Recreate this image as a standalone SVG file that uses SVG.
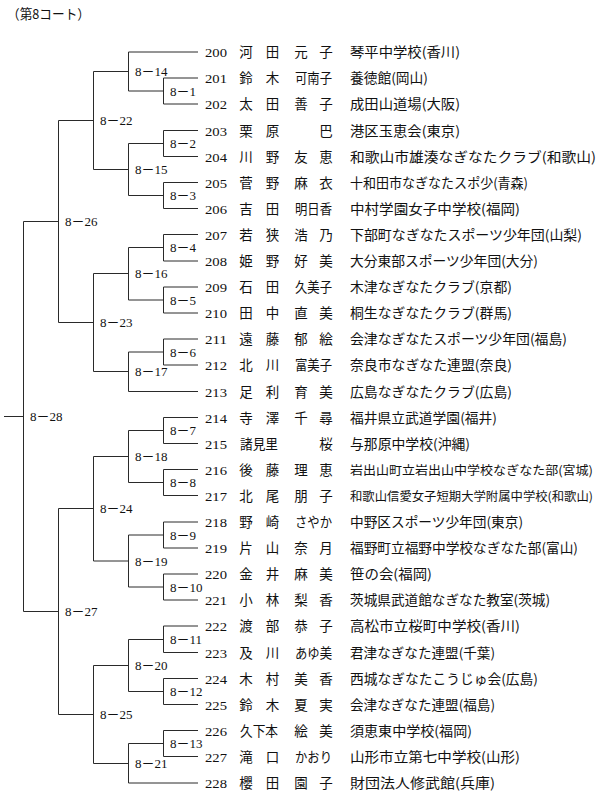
<svg xmlns="http://www.w3.org/2000/svg" width="604" height="799" viewBox="0 0 604 799">
<style>
.bg{fill:#ffffff}
.ln{fill:none;stroke:#2a2a2a;stroke-width:1}
.num{font-family:"Liberation Serif","DejaVu Serif",serif;font-size:13.5px;fill:#111}
.nm{font-family:"Noto Sans CJK JP","Noto Sans CJK SC",sans-serif;font-size:13.5px;fill:#111;text-anchor:middle}
.nm3{font-family:"Noto Sans CJK JP","Noto Sans CJK SC",sans-serif;font-size:13.5px;fill:#111}
.af{font-family:"Noto Sans CJK JP","Noto Sans CJK SC",sans-serif;font-size:13.5px;fill:#111}
.afs{font-family:"Noto Sans CJK JP","Noto Sans CJK SC",sans-serif;font-size:12.3px;fill:#111}
.lb{font-family:"Liberation Serif","Noto Sans CJK JP",serif;font-size:13px;fill:#111}
.tt{font-family:"Noto Sans CJK JP","Noto Sans CJK SC",sans-serif;font-size:13.5px;fill:#111}
</style>
<rect class="bg" x="0" y="0" width="604" height="799"/>
<text class="tt" x="7" y="19" textLength="83" lengthAdjust="spacingAndGlyphs">（第8コート）</text>

<g id="connectors" class="ln">
<path d="M128.5 52H198 M163.5 78H198 M163.5 104H198 M163.5 130.5H198 M163.5 156.5H198 M163.5 182.5H198 M163.5 208.5H198 M163.5 234.5H198 M163.5 261H198 M163.5 287H198 M163.5 313H198 M163.5 339H198 M163.5 365H198 M128.5 391.5H198 M163.5 417.5H198 M163.5 443.5H198 M163.5 469.5H198 M163.5 495.5H198 M163.5 522H198 M163.5 548H198 M163.5 574H198 M163.5 600H198 M163.5 626H198 M163.5 652.5H198 M163.5 678.5H198 M163.5 704.5H198 M163.5 730.5H198 M163.5 756.5H198 M128.5 783H198"/>
<path d="M163.5 78V104 M163.5 130.5V156.5 M163.5 182.5V208.5 M163.5 234.5V261 M163.5 287V313 M163.5 339V365 M163.5 417.5V443.5 M163.5 469.5V495.5 M163.5 522V548 M163.5 574V600 M163.5 626V652.5 M163.5 678.5V704.5 M163.5 730.5V756.5"/>
<path d="M128.5 91H163.5 M128.5 143.5H163.5 M128.5 195.5H163.5 M128.5 247.5H163.5 M128.5 300H163.5 M128.5 352H163.5 M128.5 430.5H163.5 M128.5 482.5H163.5 M128.5 535H163.5 M128.5 587H163.5 M128.5 639.5H163.5 M128.5 691.5H163.5 M128.5 743.5H163.5"/>
<path d="M128.5 52V91 M128.5 143.5V195.5 M128.5 247.5V300 M128.5 352V391.5 M128.5 430.5V482.5 M128.5 535V587 M128.5 639.5V691.5 M128.5 743.5V783"/>
<path d="M93.5 71.5H128.5 M93.5 169.5H128.5 M93.5 273.5H128.5 M93.5 371.5H128.5 M93.5 456.5H128.5 M93.5 561H128.5 M93.5 665.5H128.5 M93.5 763.5H128.5"/>
<path d="M93.5 71.5V169.5 M93.5 273.5V371.5 M93.5 456.5V561 M93.5 665.5V763.5"/>
<path d="M58.5 120.5H93.5 M58.5 322.5H93.5 M58.5 508.5H93.5 M58.5 714.5H93.5"/>
<path d="M58.5 120.5V322.5 M58.5 508.5V714.5"/>
<path d="M23.5 221.5H58.5 M23.5 611.5H58.5 M23.5 221.5V611.5 M4 416.5H23.5"/>
</g>

<g id="matches" class="lb">
<g id="m8-1"><text x="170" y="95.5">8－1</text></g>
<g id="m8-2"><text x="170" y="148">8－2</text></g>
<g id="m8-3"><text x="170" y="200">8－3</text></g>
<g id="m8-4"><text x="170" y="252">8－4</text></g>
<g id="m8-5"><text x="170" y="304.5">8－5</text></g>
<g id="m8-6"><text x="170" y="356.5">8－6</text></g>
<g id="m8-7"><text x="170" y="435">8－7</text></g>
<g id="m8-8"><text x="170" y="487">8－8</text></g>
<g id="m8-9"><text x="170" y="539.5">8－9</text></g>
<g id="m8-10"><text x="170" y="591.5">8－10</text></g>
<g id="m8-11"><text x="170" y="644">8－11</text></g>
<g id="m8-12"><text x="170" y="696">8－12</text></g>
<g id="m8-13"><text x="170" y="748">8－13</text></g>
<g id="m8-14"><text x="135" y="76">8－14</text></g>
<g id="m8-15"><text x="135" y="174">8－15</text></g>
<g id="m8-16"><text x="135" y="278">8－16</text></g>
<g id="m8-17"><text x="135" y="376">8－17</text></g>
<g id="m8-18"><text x="135" y="461">8－18</text></g>
<g id="m8-19"><text x="135" y="565.5">8－19</text></g>
<g id="m8-20"><text x="135" y="670">8－20</text></g>
<g id="m8-21"><text x="135" y="768">8－21</text></g>
<g id="m8-22"><text x="100" y="125">8－22</text></g>
<g id="m8-23"><text x="100" y="327">8－23</text></g>
<g id="m8-24"><text x="100" y="513">8－24</text></g>
<g id="m8-25"><text x="100" y="719">8－25</text></g>
<g id="m8-26"><text x="65" y="226">8－26</text></g>
<g id="m8-27"><text x="65" y="616">8－27</text></g>
<g id="m8-28"><text x="30" y="421">8－28</text></g>
</g>

<g id="entrants">
<g id="p200"><text class="num" x="205" y="57" textLength="22" lengthAdjust="spacingAndGlyphs">200</text><text class="nm" y="57"><tspan x="246">河</tspan><tspan x="272.5">田</tspan><tspan x="301">元</tspan><tspan x="326">子</tspan></text><text class="af" x="350" y="57" textLength="110" lengthAdjust="spacingAndGlyphs">琴平中学校(香川)</text></g>
<g id="p201"><text class="num" x="205" y="83" textLength="22" lengthAdjust="spacingAndGlyphs">201</text><text class="nm" y="83"><tspan x="246">鈴</tspan><tspan x="272.5">木</tspan></text><text class="nm3" x="295" y="83" textLength="37" lengthAdjust="spacingAndGlyphs">可南子</text><text class="af" x="350" y="83" textLength="78" lengthAdjust="spacingAndGlyphs">養徳館(岡山)</text></g>
<g id="p202"><text class="num" x="205" y="109" textLength="22" lengthAdjust="spacingAndGlyphs">202</text><text class="nm" y="109"><tspan x="246">太</tspan><tspan x="272.5">田</tspan><tspan x="301">善</tspan><tspan x="326">子</tspan></text><text class="af" x="350" y="109" textLength="110" lengthAdjust="spacingAndGlyphs">成田山道場(大阪)</text></g>
<g id="p203"><text class="num" x="205" y="135.5" textLength="22" lengthAdjust="spacingAndGlyphs">203</text><text class="nm" y="135.5"><tspan x="246">栗</tspan><tspan x="272.5">原</tspan><tspan x="326">巴</tspan></text><text class="af" x="350" y="135.5" textLength="110" lengthAdjust="spacingAndGlyphs">港区玉恵会(東京)</text></g>
<g id="p204"><text class="num" x="205" y="161.5" textLength="22" lengthAdjust="spacingAndGlyphs">204</text><text class="nm" y="161.5"><tspan x="246">川</tspan><tspan x="272.5">野</tspan><tspan x="301">友</tspan><tspan x="326">恵</tspan></text><text class="af" x="350" y="161.5" textLength="246" lengthAdjust="spacingAndGlyphs">和歌山市雄湊なぎなたクラブ(和歌山)</text></g>
<g id="p205"><text class="num" x="205" y="187.5" textLength="22" lengthAdjust="spacingAndGlyphs">205</text><text class="nm" y="187.5"><tspan x="246">菅</tspan><tspan x="272.5">野</tspan><tspan x="301">麻</tspan><tspan x="326">衣</tspan></text><text class="af" x="350" y="187.5" textLength="178" lengthAdjust="spacingAndGlyphs">十和田市なぎなたスポ少(青森)</text></g>
<g id="p206"><text class="num" x="205" y="213.5" textLength="22" lengthAdjust="spacingAndGlyphs">206</text><text class="nm" y="213.5"><tspan x="246">吉</tspan><tspan x="272.5">田</tspan></text><text class="nm3" x="295" y="213.5" textLength="37" lengthAdjust="spacingAndGlyphs">明日香</text><text class="af" x="350" y="213.5" textLength="170" lengthAdjust="spacingAndGlyphs">中村学園女子中学校(福岡)</text></g>
<g id="p207"><text class="num" x="205" y="239.5" textLength="22" lengthAdjust="spacingAndGlyphs">207</text><text class="nm" y="239.5"><tspan x="246">若</tspan><tspan x="272.5">狭</tspan><tspan x="301">浩</tspan><tspan x="326">乃</tspan></text><text class="af" x="350" y="239.5" textLength="232" lengthAdjust="spacingAndGlyphs">下部町なぎなたスポーツ少年団(山梨)</text></g>
<g id="p208"><text class="num" x="205" y="266" textLength="22" lengthAdjust="spacingAndGlyphs">208</text><text class="nm" y="266"><tspan x="246">姫</tspan><tspan x="272.5">野</tspan><tspan x="301">好</tspan><tspan x="326">美</tspan></text><text class="af" x="350" y="266" textLength="188" lengthAdjust="spacingAndGlyphs">大分東部スポーツ少年団(大分)</text></g>
<g id="p209"><text class="num" x="205" y="292" textLength="22" lengthAdjust="spacingAndGlyphs">209</text><text class="nm" y="292"><tspan x="246">石</tspan><tspan x="272.5">田</tspan></text><text class="nm3" x="295" y="292" textLength="37" lengthAdjust="spacingAndGlyphs">久美子</text><text class="af" x="350" y="292" textLength="162" lengthAdjust="spacingAndGlyphs">木津なぎなたクラブ(京都)</text></g>
<g id="p210"><text class="num" x="205" y="318" textLength="22" lengthAdjust="spacingAndGlyphs">210</text><text class="nm" y="318"><tspan x="246">田</tspan><tspan x="272.5">中</tspan><tspan x="301">直</tspan><tspan x="326">美</tspan></text><text class="af" x="350" y="318" textLength="162" lengthAdjust="spacingAndGlyphs">桐生なぎなたクラブ(群馬)</text></g>
<g id="p211"><text class="num" x="205" y="344" textLength="22" lengthAdjust="spacingAndGlyphs">211</text><text class="nm" y="344"><tspan x="246">遠</tspan><tspan x="272.5">藤</tspan><tspan x="301">郁</tspan><tspan x="326">絵</tspan></text><text class="af" x="350" y="344" textLength="217" lengthAdjust="spacingAndGlyphs">会津なぎなたスポーツ少年団(福島)</text></g>
<g id="p212"><text class="num" x="205" y="370" textLength="22" lengthAdjust="spacingAndGlyphs">212</text><text class="nm" y="370"><tspan x="246">北</tspan><tspan x="272.5">川</tspan></text><text class="nm3" x="295" y="370" textLength="37" lengthAdjust="spacingAndGlyphs">富美子</text><text class="af" x="350" y="370" textLength="162" lengthAdjust="spacingAndGlyphs">奈良市なぎなた連盟(奈良)</text></g>
<g id="p213"><text class="num" x="205" y="396.5" textLength="22" lengthAdjust="spacingAndGlyphs">213</text><text class="nm" y="396.5"><tspan x="246">足</tspan><tspan x="272.5">利</tspan><tspan x="301">育</tspan><tspan x="326">美</tspan></text><text class="af" x="350" y="396.5" textLength="162" lengthAdjust="spacingAndGlyphs">広島なぎなたクラブ(広島)</text></g>
<g id="p214"><text class="num" x="205" y="422.5" textLength="22" lengthAdjust="spacingAndGlyphs">214</text><text class="nm" y="422.5"><tspan x="246">寺</tspan><tspan x="272.5">澤</tspan><tspan x="301">千</tspan><tspan x="326">尋</tspan></text><text class="af" x="350" y="422.5" textLength="147" lengthAdjust="spacingAndGlyphs">福井県立武道学園(福井)</text></g>
<g id="p215"><text class="num" x="205" y="448.5" textLength="22" lengthAdjust="spacingAndGlyphs">215</text><text class="nm3" x="240" y="448.5" textLength="38" lengthAdjust="spacingAndGlyphs">諸見里</text><text class="nm" y="448.5"><tspan x="326">桜</tspan></text><text class="af" x="350" y="448.5" textLength="120" lengthAdjust="spacingAndGlyphs">与那原中学校(沖縄)</text></g>
<g id="p216"><text class="num" x="205" y="474.5" textLength="22" lengthAdjust="spacingAndGlyphs">216</text><text class="nm" y="474.5"><tspan x="246">後</tspan><tspan x="272.5">藤</tspan><tspan x="301">理</tspan><tspan x="326">恵</tspan></text><text class="afs" x="350" y="474.5" textLength="243" lengthAdjust="spacingAndGlyphs">岩出山町立岩出山中学校なぎなた部(宮城)</text></g>
<g id="p217"><text class="num" x="205" y="500.5" textLength="22" lengthAdjust="spacingAndGlyphs">217</text><text class="nm" y="500.5"><tspan x="246">北</tspan><tspan x="272.5">尾</tspan><tspan x="301">朋</tspan><tspan x="326">子</tspan></text><text class="afs" x="350" y="500.5" textLength="243" lengthAdjust="spacingAndGlyphs" style="font-size:12px">和歌山信愛女子短期大学附属中学校(和歌山)</text></g>
<g id="p218"><text class="num" x="205" y="527" textLength="22" lengthAdjust="spacingAndGlyphs">218</text><text class="nm" y="527"><tspan x="246">野</tspan><tspan x="272.5">崎</tspan></text><text class="nm3" x="295" y="527" textLength="37" lengthAdjust="spacingAndGlyphs">さやか</text><text class="af" x="350" y="527" textLength="173" lengthAdjust="spacingAndGlyphs">中野区スポーツ少年団(東京)</text></g>
<g id="p219"><text class="num" x="205" y="553" textLength="22" lengthAdjust="spacingAndGlyphs">219</text><text class="nm" y="553"><tspan x="246">片</tspan><tspan x="272.5">山</tspan><tspan x="301">奈</tspan><tspan x="326">月</tspan></text><text class="af" x="350" y="553" textLength="228" lengthAdjust="spacingAndGlyphs">福野町立福野中学校なぎなた部(富山)</text></g>
<g id="p220"><text class="num" x="205" y="579" textLength="22" lengthAdjust="spacingAndGlyphs">220</text><text class="nm" y="579"><tspan x="246">金</tspan><tspan x="272.5">井</tspan><tspan x="301">麻</tspan><tspan x="326">美</tspan></text><text class="af" x="350" y="579" textLength="82" lengthAdjust="spacingAndGlyphs">笹の会(福岡)</text></g>
<g id="p221"><text class="num" x="205" y="605" textLength="22" lengthAdjust="spacingAndGlyphs">221</text><text class="nm" y="605"><tspan x="246">小</tspan><tspan x="272.5">林</tspan><tspan x="301">梨</tspan><tspan x="326">香</tspan></text><text class="af" x="350" y="605" textLength="200" lengthAdjust="spacingAndGlyphs">茨城県武道館なぎなた教室(茨城)</text></g>
<g id="p222"><text class="num" x="205" y="631" textLength="22" lengthAdjust="spacingAndGlyphs">222</text><text class="nm" y="631"><tspan x="246">渡</tspan><tspan x="272.5">部</tspan><tspan x="301">恭</tspan><tspan x="326">子</tspan></text><text class="af" x="350" y="631" textLength="170" lengthAdjust="spacingAndGlyphs">高松市立桜町中学校(香川)</text></g>
<g id="p223"><text class="num" x="205" y="657.5" textLength="22" lengthAdjust="spacingAndGlyphs">223</text><text class="nm" y="657.5"><tspan x="246">及</tspan><tspan x="272.5">川</tspan></text><text class="nm3" x="295" y="657.5" textLength="37" lengthAdjust="spacingAndGlyphs">あゆ美</text><text class="af" x="350" y="657.5" textLength="145" lengthAdjust="spacingAndGlyphs">君津なぎなた連盟(千葉)</text></g>
<g id="p224"><text class="num" x="205" y="683.5" textLength="22" lengthAdjust="spacingAndGlyphs">224</text><text class="nm" y="683.5"><tspan x="246">木</tspan><tspan x="272.5">村</tspan><tspan x="301">美</tspan><tspan x="326">香</tspan></text><text class="af" x="350" y="683.5" textLength="188" lengthAdjust="spacingAndGlyphs">西城なぎなたこうじゅ会(広島)</text></g>
<g id="p225"><text class="num" x="205" y="709.5" textLength="22" lengthAdjust="spacingAndGlyphs">225</text><text class="nm" y="709.5"><tspan x="246">鈴</tspan><tspan x="272.5">木</tspan><tspan x="301">夏</tspan><tspan x="326">実</tspan></text><text class="af" x="350" y="709.5" textLength="145" lengthAdjust="spacingAndGlyphs">会津なぎなた連盟(福島)</text></g>
<g id="p226"><text class="num" x="205" y="735.5" textLength="22" lengthAdjust="spacingAndGlyphs">226</text><text class="nm3" x="240" y="735.5" textLength="38" lengthAdjust="spacingAndGlyphs">久下本</text><text class="nm" y="735.5"><tspan x="301">絵</tspan><tspan x="326">美</tspan></text><text class="af" x="350" y="735.5" textLength="122" lengthAdjust="spacingAndGlyphs">須恵東中学校(福岡)</text></g>
<g id="p227"><text class="num" x="205" y="761.5" textLength="22" lengthAdjust="spacingAndGlyphs">227</text><text class="nm" y="761.5"><tspan x="246">滝</tspan><tspan x="272.5">口</tspan></text><text class="nm3" x="295" y="761.5" textLength="37" lengthAdjust="spacingAndGlyphs">かおり</text><text class="af" x="350" y="761.5" textLength="170" lengthAdjust="spacingAndGlyphs">山形市立第七中学校(山形)</text></g>
<g id="p228"><text class="num" x="205" y="788" textLength="22" lengthAdjust="spacingAndGlyphs">228</text><text class="nm" y="788"><tspan x="246">櫻</tspan><tspan x="272.5">田</tspan><tspan x="301">園</tspan><tspan x="326">子</tspan></text><text class="af" x="350" y="788" textLength="145" lengthAdjust="spacingAndGlyphs">財団法人修武館(兵庫)</text></g>
</g>
</svg>
